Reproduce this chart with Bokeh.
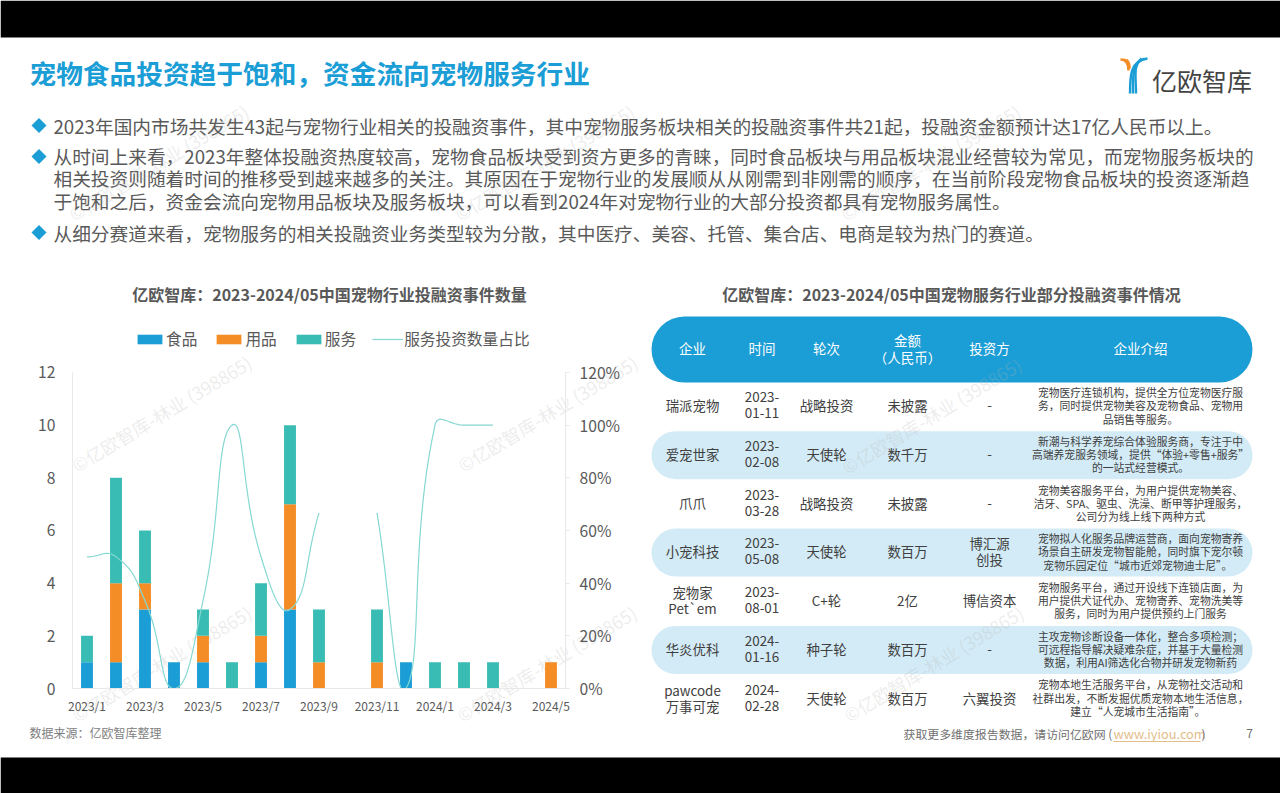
from bokeh.plotting import figure
from bokeh.embed import file_html
from bokeh.resources import INLINE
from bokeh.models import (Range1d, LinearAxis, FixedTicker, NumeralTickFormatter, Label,
                          BoxAnnotation, Legend, LegendItem)
import numpy as np

FONT = "Noto Sans CJK SC"
BLUE = "#1b9dd5"
ORANGE = "#f58d27"
TEAL = "#38bcb4"
LINE = "#86d8d2"
GREY = "#595959"

# chart data
months = ["2023/1", "2023/2", "2023/3", "2023/4", "2023/5", "2023/6", "2023/7", "2023/8", "2023/9",
          "2023/10", "2023/11", "2023/12", "2024/1", "2024/2", "2024/3", "2024/4", "2024/5"]
food = [1, 1, 3, 1, 1, 0, 1, 3, 0, 0, 0, 1, 0, 0, 0, 0, 0]
goods = [0, 3, 1, 0, 1, 0, 1, 4, 1, 0, 1, 0, 0, 0, 0, 0, 1]
service = [1, 4, 2, 0, 1, 1, 2, 3, 2, 0, 2, 0, 1, 1, 1, 0, 0]
share_a = [0.5, 0.5, 0.333, 0, 0.333, 1, 0.5, 0.3, 0.667]
share_b = [0.667, 0, 1, 1, 1]
share_b_start = 10

# texts
title = "宠物食品投资趋于饱和，资金流向宠物服务行业"
bullets = [
    (125, ["2023年国内市场共发生43起与宠物行业相关的投融资事件，其中宠物服务板块相关的投融资事件共21起，投融资金额预计达17亿人民币以上。"]),
    (156, ["从时间上来看，2023年整体投融资热度较高，宠物食品板块受到资方更多的青睐，同时食品板块与用品板块混业经营较为常见，而宠物服务板块的",
           "相关投资则随着时间的推移受到越来越多的关注。其原因在于宠物行业的发展顺从从刚需到非刚需的顺序，在当前阶段宠物食品板块的投资逐渐趋",
           "于饱和之后，资金会流向宠物用品板块及服务板块，可以看到2024年对宠物行业的大部分投资都具有宠物服务属性。"]),
    (232, ["从细分赛道来看，宠物服务的相关投融资业务类型较为分散，其中医疗、美容、托管、集合店、电商是较为热门的赛道。"]),
]
chart_title = "亿欧智库：2023-2024/05中国宠物行业投融资事件数量"
table_title = "亿欧智库：2023-2024/05中国宠物服务行业部分投融资事件情况"
table_head = ["企业", "时间", "轮次", "金额\n（人民币）", "投资方", "企业介绍"]
companies = ["瑞派宠物", "爱宠世家", "爪爪", "小宠科技", "宠物家\nPet`em", "华炎优科", "pawcode\n万事可宠"]
dates = ["2023-\n01-11", "2023-\n02-08", "2023-\n03-28", "2023-\n05-08", "2023-\n08-01", "2024-\n01-16", "2024-\n02-28"]
rounds = ["战略投资", "天使轮", "战略投资", "天使轮", "C+轮", "种子轮", "天使轮"]
amounts = ["未披露", "数千万", "未披露", "数百万", "2亿", "数百万", "数百万"]
investors = ["-", "-", "-", "博汇源\n创投", "博信资本", "-", "六翼投资"]
intros = [
    "宠物医疗连锁机构，提供全方位宠物医疗服\n务，同时提供宠物美容及宠物食品、宠物用\n品销售等服务。",
    "新潮与科学养宠综合体验服务商，专注于中\n高端养宠服务领域，提供“体验+零售+服务”\n的一站式经营模式。",
    "宠物美容服务平台，为用户提供宠物美容、\n洁牙、SPA、驱虫、洗澡、断甲等护理服务，\n公司分为线上线下两种方式",
    "宠物拟人化服务品牌运营商，面向宠物寄养\n场景自主研发宠物智能舱，同时旗下宠尔顿\n宠物乐园定位“城市近郊宠物迪士尼”。",
    "宠物服务平台，通过开设线下连锁店面，为\n用户提供犬证代办、宠物寄养、宠物洗美等\n服务，同时为用户提供预约上门服务",
    "主攻宠物诊断设备一体化，整合多项检测；\n可远程指导解决疑难杂症，并基于大量检测\n数据，利用AI筛选化合物并研发宠物新药",
    "宠物本地生活服务平台，从宠物社交活动和\n社群出发，不断发掘优质宠物本地生活信息，\n建立“人宠城市生活指南”。",
]
watermark = "©亿欧智库-林业 (398865)"


def smooth(vals, start=0, n=24, sx=29.0, sy=263.3):
    # Excel style smoothed line: bezier handles weighted by segment length in pixels
    pts = [np.array([i * sx, v * sy]) for i, v in enumerate(vals)]
    xs, ys = [], []
    hand = []
    for i, pt in enumerate(pts):
        a = pts[max(i - 1, 0)]
        b = pts[min(i + 1, len(pts) - 1)]
        la, lb = np.linalg.norm(pt - a), np.linalg.norm(b - pt)
        d = (b - a) * 0.5 / (la + lb)
        hand.append((pt - d * la, pt + d * lb))
    for i in range(len(pts) - 1):
        c0, c1 = hand[i][1], hand[i + 1][0]
        for t in np.linspace(0, 1, n):
            q = (1 - t) ** 3 * pts[i] + 3 * (1 - t) ** 2 * t * c0 + 3 * (1 - t) * t ** 2 * c1 + t ** 3 * pts[i + 1]
            xs.append(start + q[0] / sx)
            ys.append(q[1] / sy)
    return xs, ys


# slide background figure, its ranges are page pixels
page = figure(width=1280, height=793, output_backend="svg", toolbar_location=None,
              x_range=Range1d(0, 1280), y_range=Range1d(793, 0), min_border=0,
              border_fill_color="#ffffff", background_fill_color="#ffffff", outline_line_color=None)
page.axis.visible = False
page.grid.visible = False

# chart figure sits on top of it, see-through. frame reaches up to the legend so the legend is not cut
chart = figure(width=640, height=400, output_backend="svg", toolbar_location=None,
               x_range=Range1d(-0.5, 16.5), y_range=Range1d(0, 13.67),
               min_border_left=72, min_border_right=75, min_border_top=8, min_border_bottom=32,
               border_fill_color=None, background_fill_color=None, outline_line_color=None,
               styles={"position": "absolute", "left": "0px", "top": "320px"})
chart.extra_y_ranges["share"] = Range1d(0, 1.367)
chart.grid.visible = False

x = list(range(len(months)))
bars = chart.vbar_stack(["food", "goods", "service"], x="x", width=0.41, color=[BLUE, ORANGE, TEAL], line_color=None,
                        source=dict(x=x, food=food, goods=goods, service=service))
xa, ya = smooth(share_a)
xb, yb = smooth(share_b, share_b_start)
l1 = chart.line(xa, ya, color=LINE, line_width=1.2, y_range_name="share")
chart.line(xb, yb, color=LINE, line_width=1.2, y_range_name="share")

chart.xaxis.ticker = FixedTicker(ticks=x[::2])
chart.xaxis.major_label_overrides = {i: months[i] for i in x[::2]}
chart.yaxis.ticker = FixedTicker(ticks=[0, 2, 4, 6, 8, 10, 12])
chart.yaxis.bounds = (0, 12)
right = LinearAxis(y_range_name="share", ticker=FixedTicker(ticks=[0, 0.2, 0.4, 0.6, 0.8, 1, 1.2]),
                   formatter=NumeralTickFormatter(format="0%"), bounds=(0, 1.2))
chart.add_layout(right, "right")
for ax in [chart.xaxis[0], chart.yaxis[0], right]:
    ax.axis_line_color = "#e8e8e8"
    ax.major_label_text_color = GREY
    ax.major_label_text_font = FONT
    ax.minor_tick_line_color = None
    ax.major_tick_line_color = None
    ax.major_tick_out = 0
    ax.major_tick_in = 0
    ax.major_label_text_font_size = "15.7px"
chart.xaxis.major_label_text_font_size = "12px"
chart.xaxis.major_label_standoff = 8
chart.yaxis.major_label_standoff = 17
right.major_label_standoff = 10
right.major_tick_line_color = "#e8e8e8"
right.major_tick_out = 4

legend = Legend(items=[LegendItem(label="食品", renderers=[bars[0]]), LegendItem(label="用品", renderers=[bars[1]]),
                       LegendItem(label="服务", renderers=[bars[2]]), LegendItem(label="服务投资数量占比", renderers=[l1])],
                orientation="horizontal", location=(62, 338), margin=0, padding=0, spacing=16,
                glyph_width=31, glyph_height=12, label_standoff=1, label_text_font=FONT, label_text_font_size="15.7px",
                label_text_color=GREY, background_fill_color=None, border_line_color=None)
chart.add_layout(legend)


def box(x0, x1, y0, y1, color, radius=0):
    page.add_layout(BoxAnnotation(left=x0, right=x1, top=y0, bottom=y1, fill_color=color, fill_alpha=1, line_color=None,
                                  border_radius=radius, level="underlay", editable=False))


def txt(x0, y0, s, size, color=GREY, align="left", bold=False, angle=0, alpha=1.0):
    # middle baseline sits a bit low for this font
    page.add_layout(Label(x=x0, y=y0 - 1.2, text=s, text_font=FONT, text_font_size=f"{size}px", text_color=color,
                          text_align=align, text_baseline="middle", text_font_style="bold" if bold else "normal",
                          angle=angle, angle_units="deg", text_alpha=alpha))


def stacked(x0, y0, s, size, gap, color=GREY):
    parts = s.split("\n")
    for i, part in enumerate(parts):
        txt(x0, y0 + (i - (len(parts) - 1) / 2) * gap, part, size, color, "center")


# black bars above and below the slide
box(0, 1280, 0, 37, "#000000")
box(0, 1280, 757, 793, "#000000")

# header
txt(29, 73, title, 26.7, BLUE, bold=True)
for k, off in enumerate([0, 3, 6]):
    page.bezier(x0=[1147 - off], y0=[58], x1=[1129.5 + k * 3], y1=[93],
                cx0=[1130 + off * 0.4], cy0=[60 + off], cx1=[1129.5 + k * 3], cy1=[75], line_color=BLUE, line_width=2.4)
    page.bezier(x0=[1120 + off], y0=[59], x1=[1128 + off * 0.2], y1=[70 - off * 0.4],
                cx0=[1126 + off * 0.3], cy0=[59 + off * 0.3], cx1=[1128 + off * 0.2], cy1=[63],
                line_color=ORANGE, line_width=2.4)
txt(1201.5, 81, "亿欧智库", 25, "#444444", "center")

# bullets
for yb0, rows in bullets:
    page.patch([31, 38.5, 46, 38.5], [yb0, yb0 - 7.5, yb0, yb0 + 7.5], color=BLUE, line_color=None)
    for i, row in enumerate(rows):
        txt(53, yb0 + (1 if len(rows) == 1 else 0) + i * 22.5, row, 18.7, GREY)

# titles
txt(329, 295, chart_title, 16, GREY, "center", bold=True)
txt(951, 295, table_title, 16, GREY, "center", bold=True)

# table
cols = [692, 761.5, 826, 907, 989, 1140]
box(651, 1252, 316, 382, BLUE, 33)
for cx, head in zip(cols, table_head):
    stacked(cx, 349, head, 13.5, 16.5, "#ffffff")
for i in range(7):
    yc = 406 + i * 48.7
    if i % 2 == 1:
        box(651, 1252, yc - 24, yc + 24, "#d3ebf6", 24)
    stacked(cols[0], yc, companies[i], 13.4, 16, "#404040")
    stacked(cols[1], yc, dates[i], 13.4, 16, "#404040")
    stacked(cols[2], yc, rounds[i], 13.4, 16, "#404040")
    stacked(cols[3], yc, amounts[i], 13.4, 16, "#404040")
    stacked(cols[4], yc, investors[i], 13.4, 16, "#404040")
    stacked(cols[5], yc, intros[i], 10.8, 13.2, "#404040")

# watermarks
for wx, wy in [(161, 414), (547, 414), (161, 664), (546, 664), (931, 416), (933, 664), (158, 163), (544, 163), (930, 163)]:
    txt(wx, wy, watermark, 18, "#b5b5b5", "center", angle=31, alpha=0.25)

# footer
txt(29, 733, "数据来源：亿欧智库整理", 12, "#808080")
txt(903, 734, "获取更多维度报告数据，请访问亿欧网 (", 11.9, "#707070")
txt(1113, 734, "www.iyiou.com", 12.8, "#e3bd8a")
box(1113, 1200, 740.5, 741.5, "#e3bd8a")
txt(1201, 734, ")", 11.9, "#707070")
txt(1249, 734, "7", 12, "#707070", "center")

open("out.html", "w").write(file_html([page, chart], INLINE))
